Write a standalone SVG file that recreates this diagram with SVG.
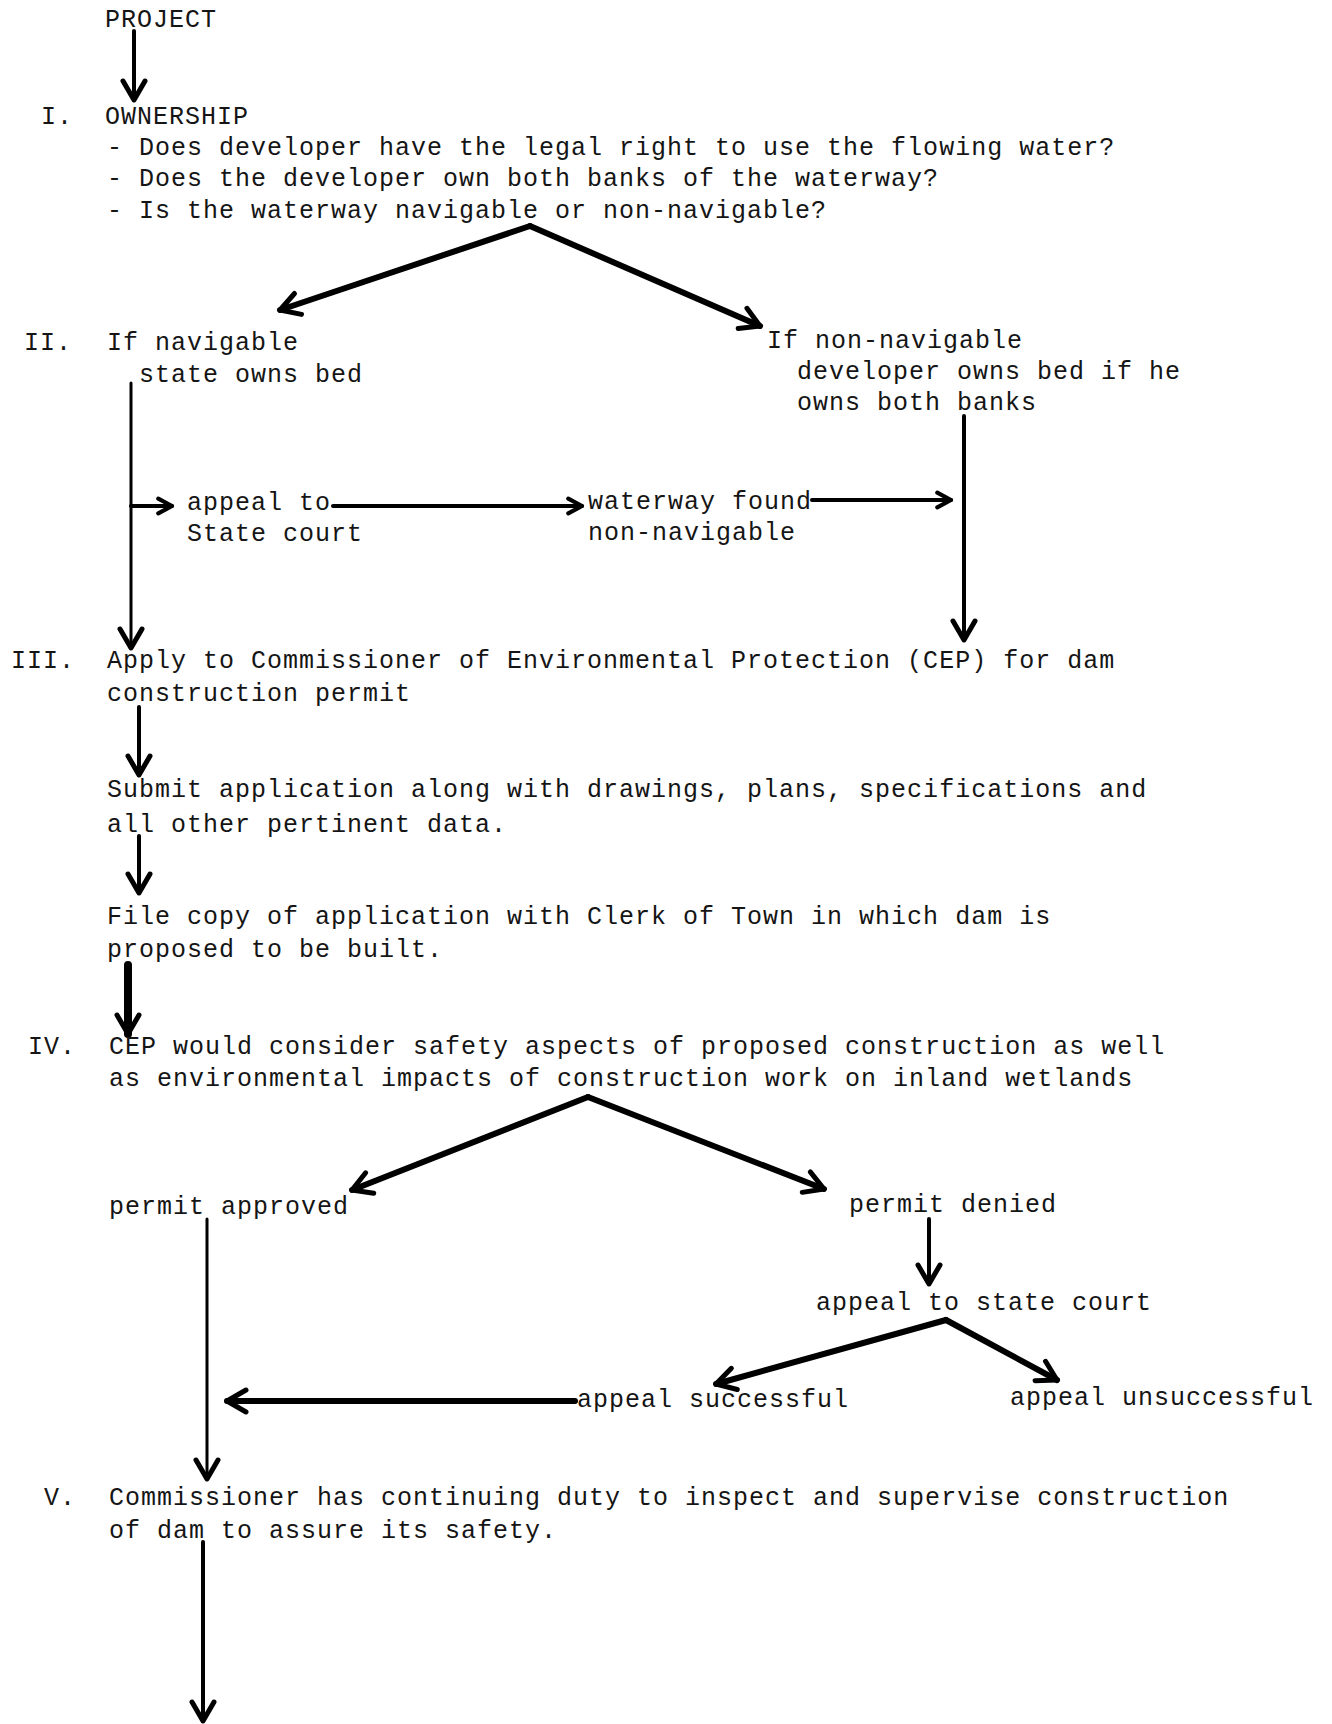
<svg xmlns="http://www.w3.org/2000/svg" width="1332" height="1724" viewBox="0 0 1332 1724">
<style>
text{font-family:"Liberation Mono","DejaVu Sans Mono",monospace;font-size:25px;letter-spacing:1px;fill:#151515}
.c{fill:none;stroke:#000;stroke-linecap:round;stroke-linejoin:round}
.w3{stroke-width:3}
.w4{stroke-width:4}
.w5{stroke-width:6}
.w6{stroke-width:8}
</style>
<defs>
<marker id="ah" viewBox="0 0 30 30" refX="25" refY="15" markerWidth="30" markerHeight="30" markerUnits="userSpaceOnUse" orient="auto">
<path d="M6,4 L25,15 L6,26" fill="none" stroke="#000" stroke-width="5" stroke-linecap="round" stroke-linejoin="round"/>
</marker>
<marker id="ahs" viewBox="0 0 24 24" refX="20" refY="12" markerWidth="22" markerHeight="22" markerUnits="userSpaceOnUse" orient="auto">
<path d="M5,4 L20,12 L5,20" fill="none" stroke="#000" stroke-width="4.5" stroke-linecap="round" stroke-linejoin="round"/>
</marker>
</defs>
<g id="connectors">
<path class="c w4" d="M134,31 L134,100" marker-end="url(#ah)"/>
<path class="c w5" d="M530,226 L280,310" marker-end="url(#ah)"/>
<path class="c w5" d="M530,226 L760,326" marker-end="url(#ah)"/>
<path class="c w3" d="M131,383 L131,648" marker-end="url(#ah)"/>
<path class="c w4" d="M131,506 L172,506" marker-end="url(#ahs)"/>
<path class="c w4" d="M333,506 L582,506" marker-end="url(#ahs)"/>
<path class="c w4" d="M812,500 L951,500" marker-end="url(#ahs)"/>
<path class="c w4" d="M964,416 L964,640" marker-end="url(#ah)"/>
<path class="c w4" d="M139,707 L139,775" marker-end="url(#ah)"/>
<path class="c w4" d="M139,836 L139,893" marker-end="url(#ah)"/>
<path class="c w6" d="M128,965 L128,1034" marker-end="url(#ah)"/>
<path class="c w5" d="M588,1097 L352,1190" marker-end="url(#ah)"/>
<path class="c w5" d="M588,1097 L824,1189" marker-end="url(#ah)"/>
<path class="c w3" d="M207,1219 L207,1479" marker-end="url(#ah)"/>
<path class="c w4" d="M929,1219 L929,1284" marker-end="url(#ah)"/>
<path class="c w5" d="M946,1320 L716,1384" marker-end="url(#ah)"/>
<path class="c w5" d="M946,1320 L1057,1380" marker-end="url(#ah)"/>
<path class="c w5" d="M575,1401 L227,1401" marker-end="url(#ah)"/>
<path class="c w4" d="M203,1542 L203,1721" marker-end="url(#ah)"/>
</g>
<g id="project"><text x="105" y="27">PROJECT</text></g>
<g id="ownership">
<text x="41" y="124">I.</text>
<text x="105" y="124">OWNERSHIP</text>
<text x="107" y="155">- Does developer have the legal right to use the flowing water?</text>
<text x="107" y="186">- Does the developer own both banks of the waterway?</text>
<text x="107" y="218">- Is the waterway navigable or non-navigable?</text>
</g>
<g id="navigable">
<text x="24" y="350">II.</text>
<text x="107" y="350">If navigable</text>
<text x="139" y="382">state owns bed</text>
</g>
<g id="non-navigable">
<text x="767" y="348">If non-navigable</text>
<text x="797" y="379">developer owns bed if he</text>
<text x="797" y="410">owns both banks</text>
</g>
<g id="appeal-state-court">
<text x="187" y="510">appeal to</text>
<text x="187" y="541">State court</text>
</g>
<g id="waterway-found">
<text x="588" y="509">waterway found</text>
<text x="588" y="540">non-navigable</text>
</g>
<g id="apply-cep">
<text x="11" y="668">III.</text>
<text x="107" y="668">Apply to Commissioner of Environmental Protection (CEP) for dam</text>
<text x="107" y="701">construction permit</text>
</g>
<g id="submit">
<text x="107" y="797">Submit application along with drawings, plans, specifications and</text>
<text x="107" y="832">all other pertinent data.</text>
</g>
<g id="file-copy">
<text x="107" y="924">File copy of application with Clerk of Town in which dam is</text>
<text x="107" y="957">proposed to be built.</text>
</g>
<g id="cep-consider">
<text x="28" y="1054">IV.</text>
<text x="109" y="1054">CEP would consider safety aspects of proposed construction as well</text>
<text x="109" y="1086">as environmental impacts of construction work on inland wetlands</text>
</g>
<g id="permit-approved"><text x="109" y="1214">permit approved</text></g>
<g id="permit-denied"><text x="849" y="1212">permit denied</text></g>
<g id="appeal-court"><text x="816" y="1310">appeal to state court</text></g>
<g id="appeal-successful"><text x="577" y="1407">appeal successful</text></g>
<g id="appeal-unsuccessful"><text x="1010" y="1405">appeal unsuccessful</text></g>
<g id="commissioner-duty">
<text x="44" y="1505">V.</text>
<text x="109" y="1505">Commissioner has continuing duty to inspect and supervise construction</text>
<text x="109" y="1538">of dam to assure its safety.</text>
</g>
</svg>
